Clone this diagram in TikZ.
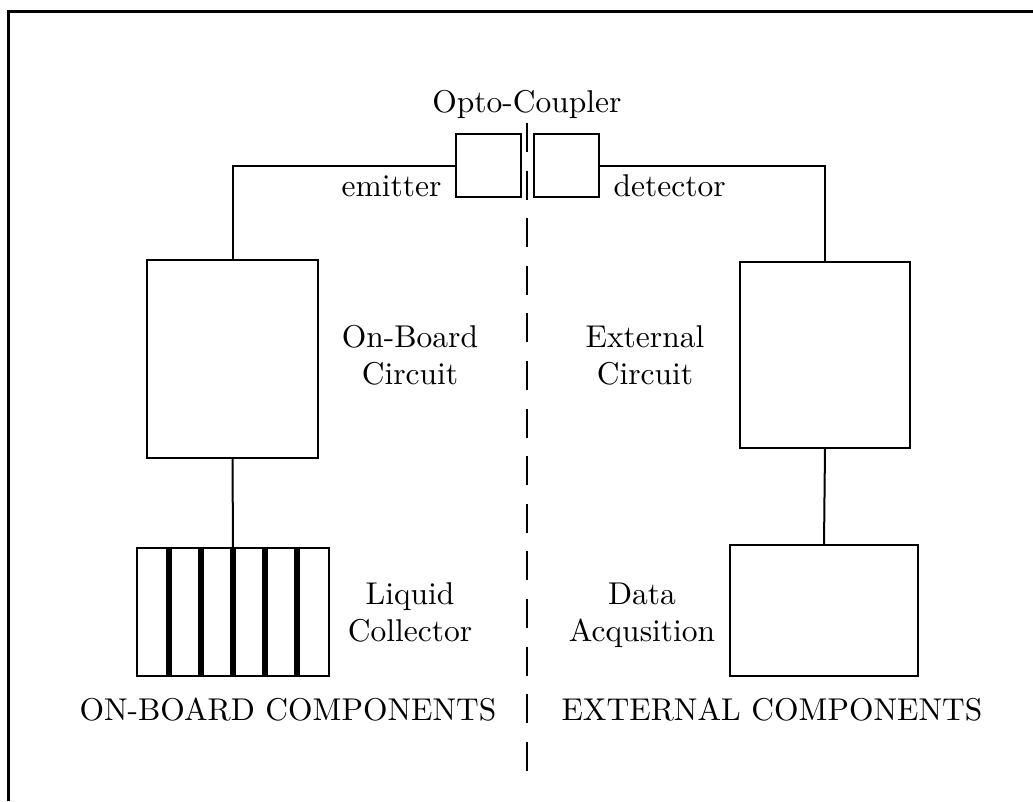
\documentclass[tikz,border=0pt]{standalone}
\usetikzlibrary{calc}
\begin{document}
\begin{tikzpicture}[x=1pt,y=-1pt,
  box/.style={draw,line width=2.3pt,inner sep=0pt,outer sep=0pt},
  wire/.style={line width=2pt},
  bar/.style={line width=6pt},
  divider/.style={line width=2.5pt,dash pattern=on 29pt off 18.6pt},
  lbl/.style={scale=3.15,inner sep=0pt,align=center,font=\fontsize{10}{11.75}\selectfont}]
\useasboundingbox (0,0) rectangle (1033,801);

% outer frame (left and top edges)
\draw[line width=3pt] (8,801) -- (8,11) -- (1033,11);

% opto-coupler halves
\node[box,minimum width=65pt,minimum height=63pt] (emit) at (488.5,165.5) {};
\node[box,minimum width=65pt,minimum height=63pt] (det) at (566.5,165.5) {};

% circuits
\node[box,minimum width=171pt,minimum height=198pt] (obc) at (232.5,359) {};
\node[box,minimum width=170pt,minimum height=186pt] (extc) at (825,355) {};

% collector and acquisition
\node[box,minimum width=192pt,minimum height=128pt] (liq) at (233,612) {};
\node[box,minimum width=188pt,minimum height=131pt] (daq) at (824,610.5) {};

% collector tubes
\foreach \k in {1,...,5}
  \draw[bar] ($(liq.north west)!\k/6!(liq.north east)$) -- ($(liq.south west)!\k/6!(liq.south east)$);

% wiring
\draw[wire] (emit.west) -| (obc.north);
\draw[wire] (det.east) -| (extc.north);
\draw[wire] (obc.south) -- (liq.north);
\draw[wire] (extc.south) -- (daq.north);

% isolation boundary
\coordinate (divtop) at (527,123);
\coordinate (divbot) at (527,776);
\draw[divider] (divtop) -- (divbot);

% labels
\node[lbl,anchor=base] (opto) at (527,112) {Opto-Coupler};
\node[lbl,anchor=base east] (emitlbl) at (442,196) {emitter};
\node[lbl,anchor=base west] (detlbl) at (613,196) {detector};
\node[lbl] (obclbl) at (410,355.5) {On-Board\\Circuit};
\node[lbl] (extclbl) at (645,355.5) {External\\Circuit};
\node[lbl] (liqlbl) at (410,612.5) {Liquid\\Collector};
\node[lbl] (daqlbl) at (642,615.5) {Data\\Acqusition};
\node[lbl,anchor=base] (onboard) at (288,720) {ON-BOARD COMPONENTS};
\node[lbl,anchor=base] (external) at (772,720) {EXTERNAL COMPONENTS};
\end{tikzpicture}
\end{document}
